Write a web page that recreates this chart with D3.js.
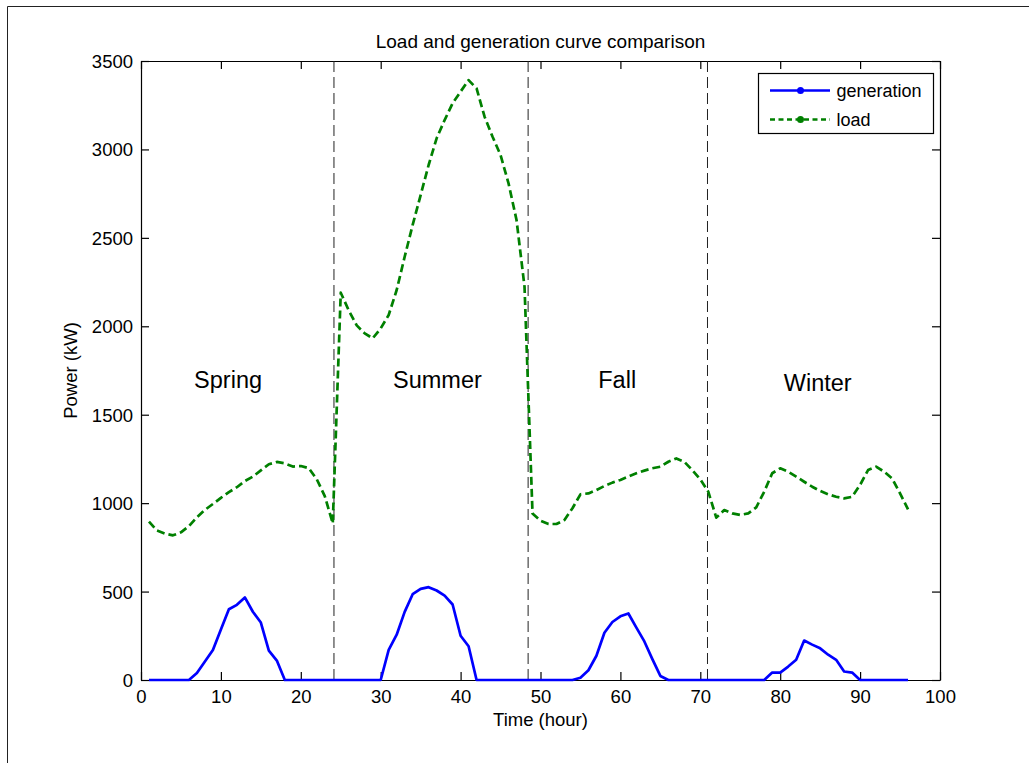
<!DOCTYPE html>
<html>
<head>
<meta charset="utf-8">
<script src="https://cdn.jsdelivr.net/npm/d3@7"></script>
<style>
  html, body { margin: 0; padding: 0; background: #ffffff; }
  svg { display: block; font-family: "Liberation Sans", Arial, Helvetica, sans-serif; }
</style>
</head>
<body>
<svg id="chart" width="1029" height="763"></svg>
<script>
// ---------------- data ----------------
const hours = d3.range(1, 97);

const generation = [
  0, 0, 0, 0, 0, 0, 40, 105, 170, 285, 400, 425, 467, 386, 325, 166, 110, 0, 0, 0, 0, 0, 0, 0,
  0, 0, 0, 0, 0, 0, 170, 256, 385, 485, 515, 525, 506, 477, 427, 250, 191, 0, 0, 0, 0, 0, 0, 0,
  0, 0, 0, 0, 0, 0, 13, 55, 137, 267, 328, 360, 376, 296, 218, 118, 23, 0, 0, 0, 0, 0, 0, 0,
  0, 0, 0, 0, 0, 0, 42, 42, 76, 114, 223, 200, 179, 143, 114, 48, 42, 0, 0, 0, 0, 0, 0, 0
];

const load = [
  895, 845, 828, 818, 835, 870, 920, 962, 995, 1030, 1062, 1090, 1125, 1150, 1185, 1220, 1233, 1225, 1207, 1210, 1198, 1135, 1040, 885,
  2190, 2090, 2005, 1960, 1932, 1988, 2064, 2205, 2393, 2573, 2742, 2912, 3063, 3166, 3261, 3327, 3392, 3345, 3185, 3072, 2968, 2808, 2601, 2224,
  942, 901, 882, 882, 905, 971, 1050, 1055, 1074, 1097, 1116, 1131, 1150, 1169, 1184, 1197, 1206, 1234, 1253, 1234, 1187, 1135, 1065, 918,
  961, 942, 933, 942, 976, 1065, 1169, 1197, 1178, 1150, 1121, 1093, 1069, 1050, 1036, 1027, 1036, 1103, 1187, 1206, 1178, 1140, 1055, 965
];

const seriesNames = ["generation", "load"];
const seasons = ["Spring", "Summer", "Fall", "Winter"];
const seasonBoundaries = [24.15, 48.45, 70.9];

const xTicks = [0, 10, 20, 30, 40, 50, 60, 70, 80, 90, 100];
const yTicks = [0, 500, 1000, 1500, 2000, 2500, 3000, 3500];

const titleText = "Load and generation curve comparison";
const xLabel = "Time (hour)";
const yLabel = "Power (kW)";

// ---------------- layout / style ----------------
const W = 1029, H = 763;
const plot = { left: 141, right: 940, top: 61, bottom: 680 };
const colors = { generation: "#0000ff", load: "#008000" };
// season label anchors in data units (x = hour, y = kW baseline)
const seasonPos = [
  { x: 10.9, y: 1650 },
  { x: 37.1, y: 1650 },
  { x: 59.6, y: 1650 },
  { x: 84.7, y: 1633 }
];

const svg = d3.select("#chart");

svg.append("rect").attr("width", W).attr("height", H).attr("fill", "#ffffff");

// figure border (left + top)
svg.append("path")
  .attr("d", `M7.5,${H} L7.5,6.5 L${W},6.5`)
  .attr("fill", "none").attr("stroke", "#222").attr("stroke-width", 1);

const x = d3.scaleLinear().domain([0, 100]).range([plot.left, plot.right]);
const y = d3.scaleLinear().domain([0, 3500]).range([plot.bottom, plot.top]);

const tickFont = 18.5;

// axes
const gBottom = svg.append("g").attr("transform", `translate(0,${plot.bottom})`)
  .call(d3.axisBottom(x).tickValues(xTicks).tickSize(-8).tickSizeOuter(0).tickFormat(d3.format("d")));
gBottom.selectAll("text").attr("y", 23).attr("dy", 0).attr("font-size", tickFont).attr("fill", "#000");

const gTop = svg.append("g").attr("transform", `translate(0,${plot.top})`)
  .call(d3.axisTop(x).tickValues(xTicks).tickSize(-8).tickSizeOuter(0).tickFormat(""));

const gLeft = svg.append("g").attr("transform", `translate(${plot.left},0)`)
  .call(d3.axisLeft(y).tickValues(yTicks).tickSize(-8).tickSizeOuter(0).tickFormat(d3.format("d")));
gLeft.selectAll("text").attr("x", -8).attr("dy", "0.35em").attr("font-size", tickFont).attr("fill", "#000");

const gRight = svg.append("g").attr("transform", `translate(${plot.right},0)`)
  .call(d3.axisRight(y).tickValues(yTicks).tickSize(-8).tickSizeOuter(0).tickFormat(""));

svg.selectAll(".domain").attr("stroke", "#000").attr("stroke-width", 1.2);
svg.selectAll(".tick line").attr("stroke", "#000").attr("stroke-width", 1.2);
svg.selectAll("g").attr("font-family", null);

// season boundaries
svg.append("g").selectAll("line").data(seasonBoundaries).join("line")
  .attr("x1", d => x(d)).attr("x2", d => x(d))
  .attr("y1", plot.top).attr("y2", plot.bottom)
  .attr("stroke", "#222").attr("stroke-width", 1)
  .attr("stroke-dasharray", "11,5");

// series
const line = d3.line().x((d, i) => x(hours[i])).y(d => y(d));

svg.append("path").datum(load)
  .attr("d", line)
  .attr("fill", "none").attr("stroke", colors.load).attr("stroke-width", 2.7)
  .attr("stroke-dasharray", "8,4").attr("stroke-linejoin", "round");

svg.append("path").datum(generation)
  .attr("d", line)
  .attr("fill", "none").attr("stroke", colors.generation).attr("stroke-width", 2.7)
  .attr("stroke-linejoin", "round");

// season labels
svg.append("g").selectAll("text").data(seasons).join("text")
  .attr("x", (d, i) => x(seasonPos[i].x))
  .attr("y", (d, i) => y(seasonPos[i].y))
  .attr("text-anchor", "middle")
  .attr("font-size", 23.5)
  .attr("fill", "#000")
  .text(d => d);

// title & axis labels
svg.append("text").attr("x", (plot.left + plot.right) / 2).attr("y", 48)
  .attr("text-anchor", "middle").attr("font-size", 19).attr("fill", "#000").text(titleText);

svg.append("text").attr("x", (plot.left + plot.right) / 2).attr("y", 726)
  .attr("text-anchor", "middle").attr("font-size", 18.5).attr("fill", "#000").text(xLabel);

svg.append("text")
  .attr("transform", `translate(77,${(plot.top + plot.bottom) / 2}) rotate(-90)`)
  .attr("text-anchor", "middle").attr("font-size", 18.5).attr("fill", "#000").text(yLabel);

// legend
const lg = svg.append("g");
lg.append("rect").attr("x", 758.5).attr("y", 73.5).attr("width", 175).attr("height", 60)
  .attr("fill", "#fff").attr("stroke", "#000").attr("stroke-width", 1.2);

const legendRows = [
  { name: seriesNames[0], y: 90.5, dash: null },
  { name: seriesNames[1], y: 119.5, dash: "5,3.5" }
];
legendRows.forEach(r => {
  lg.append("line").attr("x1", 770).attr("x2", 830).attr("y1", r.y).attr("y2", r.y)
    .attr("stroke", colors[r.name]).attr("stroke-width", 2.6)
    .attr("stroke-dasharray", r.dash);
  lg.append("circle").attr("cx", 800.5).attr("cy", r.y).attr("r", 3.5).attr("fill", colors[r.name]);
  lg.append("text").attr("x", 836.5).attr("y", r.y + 6.3).attr("font-size", 18).attr("fill", "#000").text(r.name);
});
</script>
</body>
</html>
